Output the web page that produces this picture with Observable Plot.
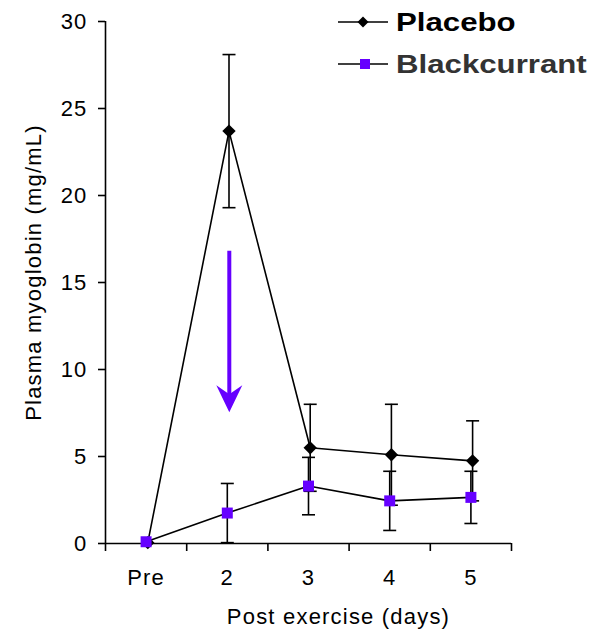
<!DOCTYPE html>
<html><head><meta charset="utf-8">
<script src="https://cdn.jsdelivr.net/npm/d3@7"></script>
<script src="https://cdn.jsdelivr.net/npm/@observablehq/plot@0.6"></script>
<style>
body{margin:0;background:#fff;}
#wrap{position:relative;width:596px;height:631px;font-family:"Liberation Sans",Arial,sans-serif;}
.leg{position:absolute;left:338px;height:30px;display:flex;align-items:center;}
.leg svg{flex:none;}
.leg span{font-weight:bold;font-size:26px;display:inline-block;transform:scaleX(1.2);transform-origin:left center;margin-left:8px;white-space:nowrap;}
</style></head><body><div id="wrap"></div>
<script>
const categories = ["Pre", "2", "3", "4", "5"];
const placebo = [0.05, 23.7, 5.5, 5.1, 4.75];
const placeboSE = [0, 4.4, 2.5, 2.9, 2.3];
const blackcurrant = [0.1, 1.75, 3.3, 2.45, 2.65];
const blackcurrantSE = [0, 1.7, 1.65, 1.7, 1.5];
const yTicks = [0, 5, 10, 15, 20, 25, 30];
const seriesNames = ["Placebo", "Blackcurrant"];
const xTitle = "Post exercise (days)";
const yTitle = "Plasma myoglobin (mg/mL)";
const arrowCategory = "2";
const arrowFrom = 16.8;
const arrowTo = 7.55;

const purple = "#6600ff";
const FONT = "'Liberation Sans', Arial, sans-serif";

const pos = c => categories.indexOf(c) + 0.5;
const P = categories.map((c, i) => ({x: pos(c), y: placebo[i], se: placeboSE[i]}));
const B = categories.map((c, i) => ({x: pos(c), y: blackcurrant[i], se: blackcurrantSE[i]}));
const boundaries = categories.map((c, i) => i).concat([categories.length]);
const centers = categories.map(pos);

const capSymbol = {draw(ctx) { ctx.moveTo(-6.5, 0); ctx.lineTo(6.5, 0); }};
const headSymbol = {draw(ctx) { ctx.moveTo(0, 0); ctx.lineTo(-13, -27); ctx.lineTo(0, -18); ctx.lineTo(13, -27); ctx.closePath(); }};
const OFF = 1.7;

function errorMarks(data, dx) {
  const d = data.filter(e => e.se > 0);
  return [
    Plot.ruleX(d, {x: "x", y1: e => e.y - e.se, y2: e => e.y + e.se, stroke: "black", strokeWidth: 1.6, dx}),
    Plot.dot(d, {x: "x", y: e => e.y + e.se, symbol: capSymbol, fill: "none", stroke: "black", strokeWidth: 1.6, dx}),
    Plot.dot(d, {x: "x", y: e => e.y - e.se, symbol: capSymbol, fill: "none", stroke: "black", strokeWidth: 1.6, dx})
  ];
}

const chart = Plot.plot({
  width: 596,
  height: 631,
  marginLeft: 105,
  marginRight: 85,
  marginTop: 21,
  marginBottom: 88,
  style: {fontFamily: FONT, fontSize: "22px", color: "black", background: "white", letterSpacing: "1.2px"},
  x: {type: "linear", domain: [0, categories.length], axis: null},
  y: {domain: [0, 30], axis: null},
  marks: [
    // axes
    Plot.ruleY([0], {stroke: "black", strokeWidth: 1.6}),
    Plot.ruleX([0], {y1: 0, y2: 30, stroke: "black", strokeWidth: 1.6}),
    Plot.axisY({ticks: yTicks, tickSize: 7, tickPadding: 11, label: null, strokeWidth: 1.6, fontSize: 22}),
    Plot.axisX({ticks: boundaries, tickFormat: () => "", tickSize: 8, label: null, strokeWidth: 1.6}),
    Plot.axisX({ticks: centers, tickFormat: v => categories[Math.floor(v)], tickSize: 0, tickPadding: 26, label: null, fontSize: 22}),
    Plot.text([yTitle], {frameAnchor: "left", rotate: -90, dx: -72, dy: -10, fontSize: 22, textAnchor: "middle", lineAnchor: "middle"}),
    Plot.text([xTitle], {frameAnchor: "bottom", dx: 30, dy: 73, fontSize: 22, textAnchor: "middle", lineAnchor: "middle"}),
    // arrow annotation
    Plot.ruleX([arrowCategory], {x: pos, y1: arrowFrom, y2: arrowTo, insetBottom: 14, stroke: purple, strokeWidth: 4, dx: 2}),
    Plot.dot([arrowCategory], {x: pos, y: arrowTo, symbol: headSymbol, fill: purple, stroke: "none", dx: 2}),
    // error bars
    ...errorMarks(P, OFF),
    ...errorMarks(B, 0),
    // lines
    Plot.line(P, {x: "x", y: "y", stroke: "black", strokeWidth: 1.6, dx: OFF}),
    Plot.line(B, {x: "x", y: "y", stroke: "black", strokeWidth: 1.6}),
    // markers
    Plot.dot(P, {x: "x", y: "y", symbol: "diamond2", r: 6, fill: "black", stroke: "none", dx: OFF}),
    Plot.dot(B, {x: "x", y: "y", symbol: "square", r: 6.2, fill: purple, stroke: "none"})
  ]
});

const wrap = document.getElementById("wrap");
wrap.appendChild(chart);

// legend
const legendRows = [
  {name: seriesNames[0], top: 7, color: "#000", marker: "diamond"},
  {name: seriesNames[1], top: 49, color: "#333", marker: "square"}
];
legendRows.forEach(r => {
  const div = document.createElement("div");
  div.className = "leg";
  div.style.top = r.top + "px";
  const ns = "http://www.w3.org/2000/svg";
  const s = document.createElementNS(ns, "svg");
  s.setAttribute("width", 50); s.setAttribute("height", 30);
  const ln = document.createElementNS(ns, "line");
  ln.setAttribute("x1", 0); ln.setAttribute("x2", 50); ln.setAttribute("y1", 15); ln.setAttribute("y2", 15);
  ln.setAttribute("stroke", "black"); ln.setAttribute("stroke-width", 1.6);
  s.appendChild(ln);
  const m = document.createElementNS(ns, "path");
  if (r.marker === "diamond") {
    m.setAttribute("d", "M25,9.5L30.5,15L25,20.5L19.5,15Z");
    m.setAttribute("fill", "black");
  } else {
    m.setAttribute("d", "M22,10H32V20H22Z");
    m.setAttribute("fill", purple);
  }
  s.appendChild(m);
  div.appendChild(s);
  const sp = document.createElement("span");
  sp.textContent = r.name;
  sp.style.color = r.color;
  div.appendChild(sp);
  wrap.appendChild(div);
});
</script></body></html>
